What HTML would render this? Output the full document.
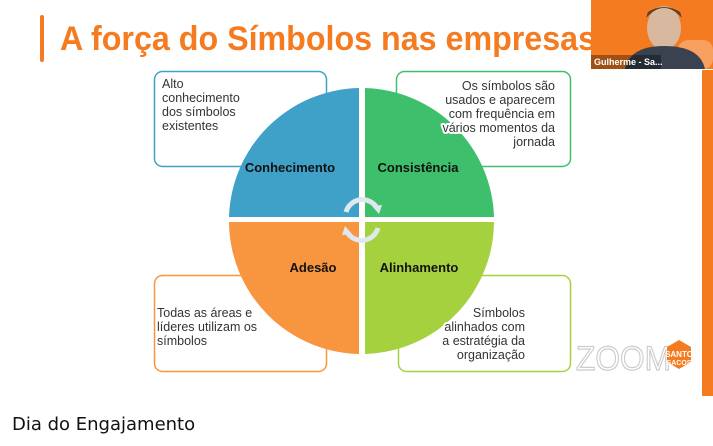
<!DOCTYPE html>
<html><head><meta charset="utf-8"><style>
html,body{margin:0;padding:0;background:#fff;width:713px;height:446px;overflow:hidden}
.h{paint-order:stroke;stroke:#fff;stroke-width:4px;stroke-linejoin:round}
</style></head><body>
<svg width="713" height="446" viewBox="0 0 713 446" xmlns="http://www.w3.org/2000/svg" font-family="Liberation Sans, DejaVu Sans, sans-serif">
<rect x="0" y="0" width="713" height="396" fill="#fff"/>
<rect x="40" y="15" width="4" height="47" rx="2" fill="#F47B20"/>
<text x="60" y="50" font-size="34" font-weight="bold" fill="#F47B20" textLength="536" lengthAdjust="spacingAndGlyphs">A força do Símbolos nas empresas</text>
<!-- webcam -->
<rect x="591" y="0" width="122" height="69" fill="#F47B20"/>
<rect x="678" y="40" width="35" height="29" rx="10" fill="#F8A060"/>
<ellipse cx="664" cy="28" rx="17" ry="22" fill="#d9b8a0"/>
<path d="M646 18 Q664 -2 682 18 L680 12 Q664 2 648 12Z" fill="#5a4030"/>
<path d="M625 69 Q630 46 664 46 Q700 46 705 69Z" fill="#3a4250"/>
<rect x="591" y="55" width="70" height="14" fill="rgba(0,0,0,0.35)"/>
<text x="594" y="65" font-size="9" font-weight="bold" fill="#fff">Gulherme - Sa...</text>
<rect x="702" y="70" width="11" height="326" fill="#F47B20"/>
<!-- boxes -->
<rect x="154.5" y="71.5" width="172" height="95" rx="8" fill="#fff" stroke="#3FA0C8" stroke-width="1.5"/>
<rect x="396.5" y="71.5" width="174" height="95" rx="8" fill="#fff" stroke="#3DBF6B" stroke-width="1.5"/>
<rect x="154.5" y="275.5" width="172" height="96" rx="8" fill="#fff" stroke="#F7963E" stroke-width="1.5"/>
<rect x="398.5" y="275.5" width="172" height="96" rx="8" fill="#fff" stroke="#A6D13F" stroke-width="1.5"/>
<!-- circle quadrants -->
<g>
<path d="M359 217 L359 88 A133 133 0 0 0 229 217Z" fill="#3FA0C8"/>
<path d="M365 217 L365 88 A133 133 0 0 1 494 217Z" fill="#3DBF6B"/>
<path d="M359 222 L229 222 A133 133 0 0 0 359 354Z" fill="#F7963E"/>
<path d="M365 222 L494 222 A133 133 0 0 1 365 354Z" fill="#A6D13F"/>
</g>
<g font-size="12.5" fill="#333" class="h">
<text x="162" y="88">Alto</text><text x="162" y="102">conhecimento</text><text x="162" y="116">dos símbolos</text><text x="162" y="130">existentes</text>
<g text-anchor="end"><text x="555" y="90">Os símbolos são</text><text x="555" y="104">usados e aparecem</text><text x="555" y="118">com frequência em</text><text x="555" y="132">vários momentos da</text><text x="555" y="146">jornada</text>
<text x="525" y="317">Símbolos</text><text x="525" y="331">alinhados com</text><text x="525" y="345">a estratégia da</text><text x="525" y="359">organização</text></g>
<text x="157" y="317">Todas as áreas e</text><text x="157" y="331">líderes utilizam os</text><text x="157" y="345">símbolos</text>
</g>
<g fill="none" stroke="#dfe8ee" stroke-width="5">
<path d="M346 212 A17 17 0 0 1 377 208"/>
<path d="M378 228 A17 17 0 0 1 347 232"/>
</g>
<path d="M372 206 L382 205 L379 214Z" fill="#dfe8ee"/>
<path d="M352 234 L342 235 L345 226Z" fill="#dfe8ee"/>
<g font-size="13" font-weight="bold" fill="#111">
<text x="290" y="172" text-anchor="middle">Conhecimento</text>
<text x="418" y="172" text-anchor="middle">Consistência</text>
<text x="313" y="272" text-anchor="middle">Adesão</text>
<text x="419" y="272" text-anchor="middle">Alinhamento</text>
</g>
<!-- zoom logo -->
<text x="576" y="370" font-size="34" fill="none" stroke="#ccc" stroke-width="1.2" textLength="95" lengthAdjust="spacingAndGlyphs">ZOOM</text>
<polygon points="679,340 691,347 691,362 679,369 667,362 667,347" fill="#F47B20"/>
<text x="679" y="357" font-size="8" font-weight="bold" fill="#fff" text-anchor="middle">SANTO</text>
<text x="679" y="365" font-size="7" font-weight="bold" fill="#fff" text-anchor="middle">SACOS</text>
<text x="12" y="430" font-size="18" fill="#111" font-family="DejaVu Sans, sans-serif">Dia do Engajamento</text>
</svg>
</body></html>
